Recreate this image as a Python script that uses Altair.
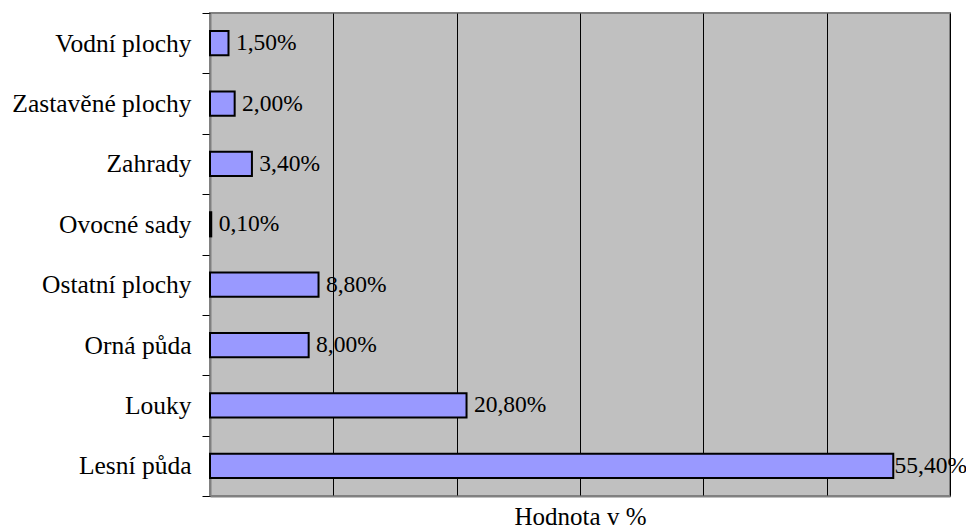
import altair as alt
import pandas as pd

# Land-use shares, top to bottom as listed on the axis
categories = [
    "Vodní plochy",
    "Zastavěné plochy",
    "Zahrady",
    "Ovocné sady",
    "Ostatní plochy",
    "Orná půda",
    "Louky",
    "Lesní půda",
]
values = [1.5, 2.0, 3.4, 0.1, 8.8, 8.0, 20.8, 55.4]
labels = ["1,50%", "2,00%", "3,40%", "0,10%", "8,80%", "8,00%", "20,80%", "55,40%"]

df = pd.DataFrame({"kategorie": categories, "hodnota": values, "popisek": labels})

FONT = "Times New Roman"

y_enc = alt.Y(
    "kategorie:N",
    sort=categories,
    scale=alt.Scale(paddingInner=0, paddingOuter=0),
    axis=alt.Axis(
        title=None,
        tickBand="extent",
        tickSize=8,
        tickColor="black",
        tickWidth=1,
        domainColor="#808080",
        domainWidth=2,
        labelPadding=11,
        labelFont=FONT,
        labelFontSize=25.5,
        labelColor="black",
        labelLimit=400,
        grid=False,
    ),
)

x_enc = alt.X(
    "hodnota:Q",
    scale=alt.Scale(domain=[0, 60], nice=False),
    axis=alt.Axis(
        title="Hodnota v %",
        titleFont=FONT,
        titleFontSize=25,
        titleFontWeight="normal",
        titleColor="black",
        titlePadding=8,
        values=[0, 10, 20, 30, 40, 50, 60],
        labels=False,
        ticks=False,
        domainColor="#808080",
        domainWidth=2,
        grid=True,
        gridColor="black",
        gridWidth=1,
        gridOpacity=1,
    ),
)

bars = alt.Chart(df).mark_bar(
    color="#9999FF",
    stroke="black",
    strokeWidth=2,
    height=alt.RelativeBandSize(0.4),
).encode(x=x_enc, y=y_enc)

# Value labels sit just right of each bar; the longest one is kept inside the frame
text = (
    alt.Chart(df)
    .transform_calculate(lx="min(datum.hodnota + 0.6, 55.5)")
    .mark_text(align="left", baseline="middle", font=FONT, fontSize=23.5, color="black")
    .encode(
        x=alt.X("lx:Q"),
        y=alt.Y("kategorie:N", sort=categories),
        text="popisek:N",
    )
)

chart = (
    alt.layer(bars, text)
    .properties(
        width=740,
        height=483,
        padding={"left": 210, "top": 13, "right": 16, "bottom": 33},
        autosize=alt.AutoSizeParams(type="none"),
        background="white",
    )
    .configure_view(fill="#C0C0C0", stroke="#808080", strokeWidth=2)
)

chart.save("out.html", embed_options={"renderer": "svg", "actions": False})
